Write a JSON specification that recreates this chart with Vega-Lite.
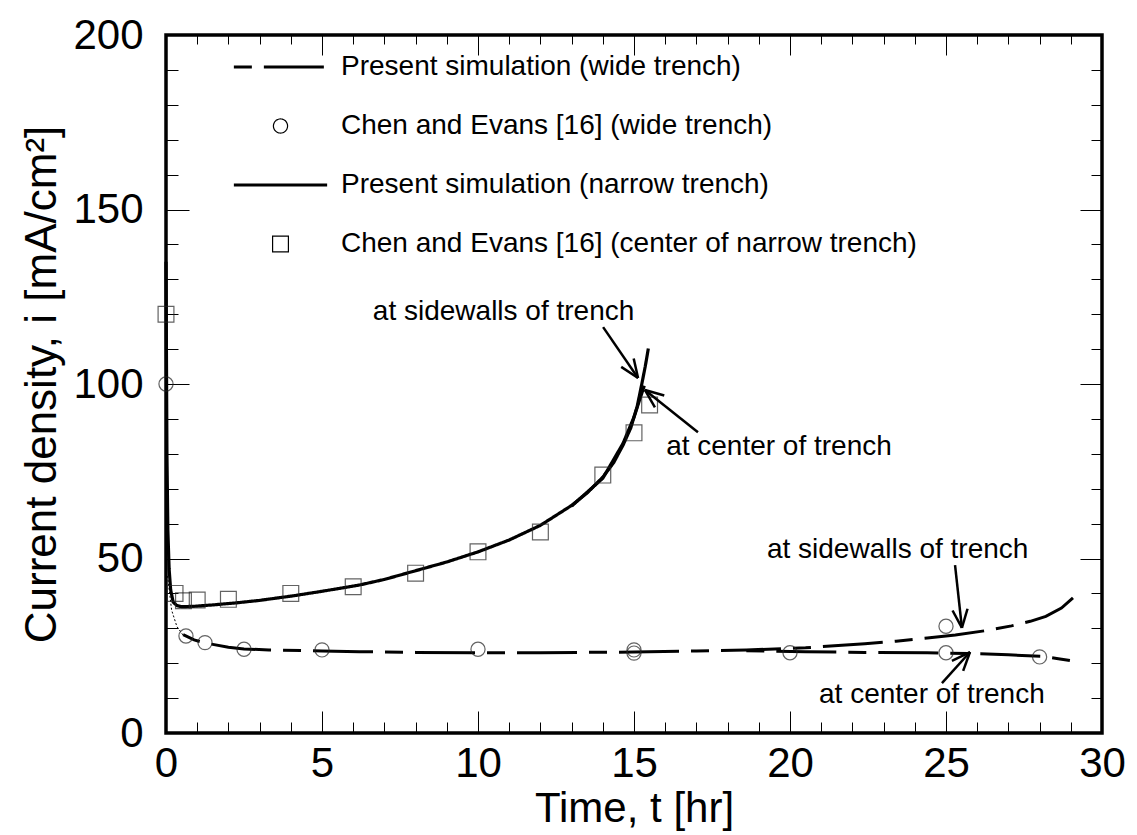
{
  "$schema": "https://vega.github.io/schema/vega-lite/v6.json",
  "width": 936,
  "height": 698,
  "autosize": "none",
  "padding": {"left": 166, "top": 35, "right": 35, "bottom": 102},
  "config": {
    "view": {"stroke": "#000", "strokeWidth": 3.5},
    "font": "Liberation Sans",
    "axis": {"grid": false, "domain": false, "tickColor": "#000", "tickWidth": 1, "labelColor": "#000", "titleColor": "#000", "labelFont": "Liberation Sans", "titleFont": "Liberation Sans", "titleFontWeight": "normal", "labelOverlap": false, "labelBound": false, "labelFlush": false}
  },
  "datasets": {
    "sim": [
      {"t": 0, "i": 135, "series": "Present simulation (narrow trench)", "part": "ns"},
      {"t": 0.03, "i": 80, "series": "Present simulation (narrow trench)", "part": "ns"},
      {"t": 0.06, "i": 58, "series": "Present simulation (narrow trench)", "part": "ns"},
      {"t": 0.1, "i": 47, "series": "Present simulation (narrow trench)", "part": "ns"},
      {"t": 0.15, "i": 41, "series": "Present simulation (narrow trench)", "part": "ns"},
      {"t": 0.23, "i": 37.5, "series": "Present simulation (narrow trench)", "part": "ns"},
      {"t": 0.35, "i": 36.5, "series": "Present simulation (narrow trench)", "part": "ns"},
      {"t": 0.5, "i": 36.2, "series": "Present simulation (narrow trench)", "part": "ns"},
      {"t": 0.9, "i": 36.3, "series": "Present simulation (narrow trench)", "part": "ns"},
      {"t": 1.5, "i": 36.7, "series": "Present simulation (narrow trench)", "part": "ns"},
      {"t": 2.27, "i": 37.3, "series": "Present simulation (narrow trench)", "part": "ns"},
      {"t": 3, "i": 38, "series": "Present simulation (narrow trench)", "part": "ns"},
      {"t": 4.07, "i": 39.3, "series": "Present simulation (narrow trench)", "part": "ns"},
      {"t": 5, "i": 40.6, "series": "Present simulation (narrow trench)", "part": "ns"},
      {"t": 6.2, "i": 42.4, "series": "Present simulation (narrow trench)", "part": "ns"},
      {"t": 7, "i": 44, "series": "Present simulation (narrow trench)", "part": "ns"},
      {"t": 8, "i": 46.5, "series": "Present simulation (narrow trench)", "part": "ns"},
      {"t": 9, "i": 49, "series": "Present simulation (narrow trench)", "part": "ns"},
      {"t": 10, "i": 51.9, "series": "Present simulation (narrow trench)", "part": "ns"},
      {"t": 11, "i": 55.3, "series": "Present simulation (narrow trench)", "part": "ns"},
      {"t": 12, "i": 59.5, "series": "Present simulation (narrow trench)", "part": "ns"},
      {"t": 13, "i": 65.2, "series": "Present simulation (narrow trench)", "part": "ns"},
      {"t": 13.5, "i": 68.8, "series": "Present simulation (narrow trench)", "part": "ns"},
      {"t": 14, "i": 73.3, "series": "Present simulation (narrow trench)", "part": "ns"},
      {"t": 14.35, "i": 77.5, "series": "Present simulation (narrow trench)", "part": "ns"},
      {"t": 14.65, "i": 82.5, "series": "Present simulation (narrow trench)", "part": "ns"},
      {"t": 14.9, "i": 87.5, "series": "Present simulation (narrow trench)", "part": "ns"},
      {"t": 15.1, "i": 93.5, "series": "Present simulation (narrow trench)", "part": "ns"},
      {"t": 15.25, "i": 100, "series": "Present simulation (narrow trench)", "part": "ns"},
      {"t": 15.36, "i": 105, "series": "Present simulation (narrow trench)", "part": "ns"},
      {"t": 15.46, "i": 110.2, "series": "Present simulation (narrow trench)", "part": "ns"},
      {"t": 13, "i": 65, "series": "Present simulation (narrow trench)", "part": "nc"},
      {"t": 14, "i": 73, "series": "Present simulation (narrow trench)", "part": "nc"},
      {"t": 14.65, "i": 83, "series": "Present simulation (narrow trench)", "part": "nc"},
      {"t": 15.0, "i": 90.5, "series": "Present simulation (narrow trench)", "part": "nc"},
      {"t": 15.2, "i": 96, "series": "Present simulation (narrow trench)", "part": "nc"},
      {"t": 15.33, "i": 99.5, "series": "Present simulation (narrow trench)", "part": "nc"},
      {"t": 0.55, "i": 28.2, "series": "Present simulation (wide trench)", "part": "ws"},
      {"t": 0.9, "i": 26.7, "series": "Present simulation (wide trench)", "part": "ws"},
      {"t": 1.25, "i": 25.8, "series": "Present simulation (wide trench)", "part": "ws"},
      {"t": 2, "i": 24.6, "series": "Present simulation (wide trench)", "part": "ws"},
      {"t": 2.5, "i": 24.1, "series": "Present simulation (wide trench)", "part": "ws"},
      {"t": 3.3, "i": 23.8, "series": "Present simulation (wide trench)", "part": "ws"},
      {"t": 5, "i": 23.5, "series": "Present simulation (wide trench)", "part": "ws"},
      {"t": 6.2, "i": 23.3, "series": "Present simulation (wide trench)", "part": "ws"},
      {"t": 8, "i": 23.1, "series": "Present simulation (wide trench)", "part": "ws"},
      {"t": 10, "i": 23, "series": "Present simulation (wide trench)", "part": "ws"},
      {"t": 12, "i": 23, "series": "Present simulation (wide trench)", "part": "ws"},
      {"t": 15, "i": 23.2, "series": "Present simulation (wide trench)", "part": "ws"},
      {"t": 17, "i": 23.5, "series": "Present simulation (wide trench)", "part": "ws"},
      {"t": 18.6, "i": 23.8, "series": "Present simulation (wide trench)", "part": "ws"},
      {"t": 20.5, "i": 24.4, "series": "Present simulation (wide trench)", "part": "ws"},
      {"t": 22.4, "i": 25.6, "series": "Present simulation (wide trench)", "part": "ws"},
      {"t": 23.4, "i": 26.3, "series": "Present simulation (wide trench)", "part": "ws"},
      {"t": 24.4, "i": 27.2, "series": "Present simulation (wide trench)", "part": "ws"},
      {"t": 25.3, "i": 28.1, "series": "Present simulation (wide trench)", "part": "ws"},
      {"t": 26.25, "i": 29.3, "series": "Present simulation (wide trench)", "part": "ws"},
      {"t": 27.1, "i": 30.7, "series": "Present simulation (wide trench)", "part": "ws"},
      {"t": 27.7, "i": 32, "series": "Present simulation (wide trench)", "part": "ws"},
      {"t": 28.2, "i": 33.4, "series": "Present simulation (wide trench)", "part": "ws"},
      {"t": 28.7, "i": 35.8, "series": "Present simulation (wide trench)", "part": "ws"},
      {"t": 29.07, "i": 38.7, "series": "Present simulation (wide trench)", "part": "ws"},
      {"t": 18.6, "i": 23.6, "series": "Present simulation (wide trench)", "part": "wc"},
      {"t": 20.5, "i": 23.3, "series": "Present simulation (wide trench)", "part": "wc"},
      {"t": 22.4, "i": 23.1, "series": "Present simulation (wide trench)", "part": "wc"},
      {"t": 24.4, "i": 23, "series": "Present simulation (wide trench)", "part": "wc"},
      {"t": 26.1, "i": 22.7, "series": "Present simulation (wide trench)", "part": "wc"},
      {"t": 27, "i": 22.4, "series": "Present simulation (wide trench)", "part": "wc"},
      {"t": 28.07, "i": 22, "series": "Present simulation (wide trench)", "part": "wc"},
      {"t": 28.6, "i": 21.3, "series": "Present simulation (wide trench)", "part": "wc"},
      {"t": 29.07, "i": 20.6, "series": "Present simulation (wide trench)", "part": "wc"}
    ],
    "dots": [
      {"t": 0.05, "i": 45},
      {"t": 0.18, "i": 35.2},
      {"t": 0.35, "i": 30.5},
      {"t": 0.55, "i": 28}
    ],
    "exp": [
      {"t": 0, "i": 100, "series": "Chen and Evans [16] (wide trench)"},
      {"t": 0.64, "i": 27.8, "series": "Chen and Evans [16] (wide trench)"},
      {"t": 1.25, "i": 25.9, "series": "Chen and Evans [16] (wide trench)"},
      {"t": 2.5, "i": 24, "series": "Chen and Evans [16] (wide trench)"},
      {"t": 5, "i": 23.8, "series": "Chen and Evans [16] (wide trench)"},
      {"t": 10, "i": 24, "series": "Chen and Evans [16] (wide trench)"},
      {"t": 15, "i": 23.8, "series": "Chen and Evans [16] (wide trench)"},
      {"t": 15, "i": 22.9, "series": "Chen and Evans [16] (wide trench)"},
      {"t": 20, "i": 23, "series": "Chen and Evans [16] (wide trench)"},
      {"t": 25, "i": 30.6, "series": "Chen and Evans [16] (wide trench)"},
      {"t": 25, "i": 23, "series": "Chen and Evans [16] (wide trench)"},
      {"t": 28, "i": 21.8, "series": "Chen and Evans [16] (wide trench)"},
      {"t": 0, "i": 120, "series": "Chen and Evans [16] (center of narrow trench)"},
      {"t": 0.29, "i": 40, "series": "Chen and Evans [16] (center of narrow trench)"},
      {"t": 0.56, "i": 37.9, "series": "Chen and Evans [16] (center of narrow trench)"},
      {"t": 1, "i": 38.1, "series": "Chen and Evans [16] (center of narrow trench)"},
      {"t": 2, "i": 38.3, "series": "Chen and Evans [16] (center of narrow trench)"},
      {"t": 4, "i": 40, "series": "Chen and Evans [16] (center of narrow trench)"},
      {"t": 6, "i": 41.9, "series": "Chen and Evans [16] (center of narrow trench)"},
      {"t": 8, "i": 45.8, "series": "Chen and Evans [16] (center of narrow trench)"},
      {"t": 10, "i": 51.9, "series": "Chen and Evans [16] (center of narrow trench)"},
      {"t": 12, "i": 57.6, "series": "Chen and Evans [16] (center of narrow trench)"},
      {"t": 14, "i": 73.9, "series": "Chen and Evans [16] (center of narrow trench)"},
      {"t": 15, "i": 86, "series": "Chen and Evans [16] (center of narrow trench)"},
      {"t": 15.5, "i": 94, "series": "Chen and Evans [16] (center of narrow trench)"}
    ],
    "notes": [
      {"t": 6.63, "i": 120.6, "label": "at sidewalls of trench"},
      {"t": 16.03, "i": 81.9, "label": "at center of trench"},
      {"t": 19.26, "i": 52.4, "label": "at sidewalls of trench"},
      {"t": 20.93, "i": 10.9, "label": "at center of trench"}
    ],
    "arrows": [
      {"t": 14.01, "i": 116.3, "t2": 15.13, "i2": 101.7},
      {"t": 15.13, "i": 101.7, "t2": 14.99, "i2": 107.3},
      {"t": 15.13, "i": 101.7, "t2": 14.59, "i2": 104.9},
      {"t": 17.05, "i": 86.2, "t2": 15.35, "i2": 98.3},
      {"t": 15.35, "i": 98.3, "t2": 15.67, "i2": 93.3},
      {"t": 15.35, "i": 98.3, "t2": 15.97, "i2": 96.7},
      {"t": 25.29, "i": 48.1, "t2": 25.51, "i2": 30.1},
      {"t": 25.51, "i": 30.1, "t2": 25.69, "i2": 35.6},
      {"t": 25.51, "i": 30.1, "t2": 25.21, "i2": 35.1},
      {"t": 24.87, "i": 14.3, "t2": 25.77, "i2": 23.2},
      {"t": 25.77, "i": 23.2, "t2": 25.19, "i2": 20.7},
      {"t": 25.77, "i": 23.2, "t2": 25.55, "i2": 17.8}
    ]
  },
  "layer": [
    {
      "data": {"name": "sim"},
      "mark": {"type": "line", "clip": false, "strokeCap": "butt"},
      "encoding": {
        "x": {"field": "t", "type": "quantitative", "scale": {"domain": [0, 30], "nice": false, "zero": false},
          "axis": {"orient": "bottom", "values": [0,1,2,3,4,5,6,7,8,9,10,11,12,13,14,15,16,17,18,19,20,21,22,23,24,25,26,27,28,29,30],
            "labelExpr": "datum.value % 5 === 0 ? datum.label : ''",
            "tickSize": {"condition": {"test": "datum.value % 5 === 0", "value": -22}, "value": -11},
            "labelFontSize": 42, "labelPadding": 32, "title": "Time, t [hr]", "titleFontSize": 42, "titlePadding": -7}},
        "y": {"field": "i", "type": "quantitative", "scale": {"domain": [0, 200], "nice": false, "zero": true},
          "axis": {"orient": "left", "values": [0,10,20,30,40,50,60,70,80,90,100,110,120,130,140,150,160,170,180,190,200],
            "labelExpr": "datum.value % 50 === 0 ? datum.label : ''",
            "tickSize": {"condition": {"test": "datum.value % 50 === 0", "value": -23}, "value": -12},
            "labelFontSize": 42, "labelPadding": 46, "title": "Current density, i [mA/cm²]", "titleFontSize": 44, "titlePadding": 8}},
        "detail": {"field": "part"},
        "color": {"value": "#000"},
        "strokeDash": {"field": "series", "type": "nominal",
          "scale": {"domain": ["Present simulation (wide trench)", "Chen and Evans [16] (wide trench)", "Present simulation (narrow trench)", "Chen and Evans [16] (center of narrow trench)"],
            "range": [[18, 12, 60, 12], [1, 0], [1, 0], [1, 0]]},
          "legend": {"title": null, "orient": "none", "legendX": 66, "legendY": 19, "labelFontSize": 28, "labelFont": "Liberation Sans", "labelColor": "#000", "labelOffset": 12, "clipHeight": 26, "rowPadding": 31, "padding": 0, "labelLimit": 0}},
        "strokeWidth": {"field": "series", "type": "nominal",
          "scale": {"type": "ordinal", "domain": ["Present simulation (wide trench)", "Chen and Evans [16] (wide trench)", "Present simulation (narrow trench)", "Chen and Evans [16] (center of narrow trench)"],
            "range": [3, 1.2, 3.2, 1.2]},
          "legend": {"title": null, "orient": "none", "legendX": 66, "legendY": 19, "labelFontSize": 28, "labelFont": "Liberation Sans", "labelColor": "#000", "labelOffset": 12, "clipHeight": 26, "rowPadding": 31, "padding": 0, "labelLimit": 0}}
      }
    },
    {
      "data": {"name": "dots"},
      "mark": {"type": "line", "color": "#000", "strokeWidth": 1, "strokeDash": [2, 2]},
      "encoding": {
        "x": {"field": "t", "type": "quantitative", "axis": null},
        "y": {"field": "i", "type": "quantitative", "axis": null}
      }
    },
    {
      "data": {"name": "exp"},
      "mark": {"type": "point", "filled": false, "clip": false},
      "encoding": {
        "x": {"field": "t", "type": "quantitative",
          "axis": {"orient": "top", "values": [0,1,2,3,4,5,6,7,8,9,10,11,12,13,14,15,16,17,18,19,20,21,22,23,24,25,26,27,28,29,30],
            "labels": false, "title": null,
            "tickSize": {"condition": {"test": "datum.value % 5 === 0", "value": -20}, "value": -9}}},
        "y": {"field": "i", "type": "quantitative",
          "axis": {"orient": "right", "values": [0,10,20,30,40,50,60,70,80,90,100,110,120,130,140,150,160,170,180,190,200],
            "labels": false, "title": null,
            "tickSize": {"condition": {"test": "datum.value % 50 === 0", "value": -22}, "value": -11}}},
        "color": {"value": "#222"},
        "shape": {"field": "series", "type": "nominal",
          "scale": {"domain": ["Present simulation (wide trench)", "Chen and Evans [16] (wide trench)", "Present simulation (narrow trench)", "Chen and Evans [16] (center of narrow trench)"],
            "range": ["stroke", "circle", "stroke", "square"]},
          "legend": {"title": null, "orient": "none", "legendX": 66, "legendY": 19, "labelFontSize": 28, "labelFont": "Liberation Sans", "labelColor": "#000", "labelOffset": 12, "clipHeight": 26, "rowPadding": 31, "padding": 0, "labelLimit": 0}},
        "size": {"field": "series", "type": "nominal",
          "scale": {"type": "ordinal", "domain": ["Present simulation (wide trench)", "Chen and Evans [16] (wide trench)", "Present simulation (narrow trench)", "Chen and Evans [16] (center of narrow trench)"],
            "range": [8700, 200, 8700, 250]},
          "legend": {"title": null, "orient": "none", "legendX": 66, "legendY": 19, "labelFontSize": 28, "labelFont": "Liberation Sans", "labelColor": "#000", "labelOffset": 12, "clipHeight": 26, "rowPadding": 31, "padding": 0, "labelLimit": 0}},
        "strokeWidth": {"field": "series", "type": "nominal",
          "scale": {"type": "ordinal", "domain": ["Present simulation (wide trench)", "Chen and Evans [16] (wide trench)", "Present simulation (narrow trench)", "Chen and Evans [16] (center of narrow trench)"],
            "range": [3, 1.2, 3.2, 1.2]},
          "legend": {"title": null, "orient": "none", "legendX": 66, "legendY": 19, "labelFontSize": 28, "labelFont": "Liberation Sans", "labelColor": "#000", "labelOffset": 12, "clipHeight": 26, "rowPadding": 31, "padding": 0, "labelLimit": 0}}
      }
    },
    {
      "data": {"name": "arrows"},
      "mark": {"type": "rule", "color": "#000", "strokeWidth": 2.5},
      "encoding": {
        "x": {"field": "t", "type": "quantitative", "axis": null},
        "y": {"field": "i", "type": "quantitative", "axis": null},
        "x2": {"field": "t2"},
        "y2": {"field": "i2"}
      }
    },
    {
      "data": {"name": "notes"},
      "mark": {"type": "text", "align": "left", "baseline": "middle", "fontSize": 28, "font": "Liberation Sans", "color": "#000"},
      "encoding": {
        "x": {"field": "t", "type": "quantitative", "axis": null},
        "y": {"field": "i", "type": "quantitative", "axis": null},
        "text": {"field": "label"}
      }
    }
  ],
  "resolve": {"axis": {"x": "independent", "y": "independent"}}
}
